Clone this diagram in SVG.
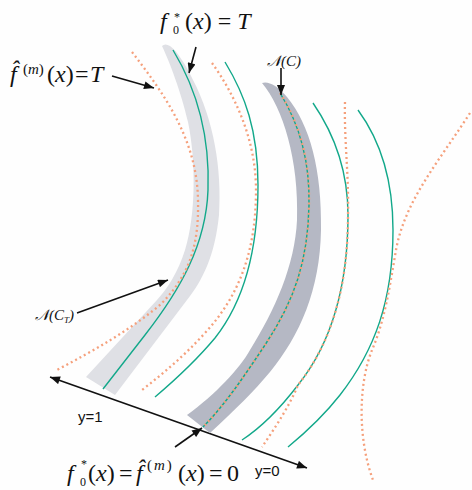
<svg xmlns="http://www.w3.org/2000/svg" width="472" height="490" viewBox="0 0 472 490">
<defs>
<style>
.m{font-family:"Liberation Serif","DejaVu Serif",serif;font-size:24px;fill:#111}
.i{font-style:italic}
.cal{font-family:"Liberation Serif","DejaVu Serif",serif;font-size:15px;font-style:italic;fill:#111}
.ax{font-family:"Liberation Sans",Arial,sans-serif;font-size:15px;fill:#111}
.teal{fill:none;stroke:#12a88a;stroke-width:1.4}
.dot{fill:none;stroke:#f5a07c;stroke-width:2.3;stroke-dasharray:2 3}
.arr{fill:none;stroke:#111;stroke-width:1.6;marker-end:url(#ah)}
</style>
<marker id="ah" viewBox="0 0 10 8" refX="10" refY="4" markerWidth="11" markerHeight="8" markerUnits="userSpaceOnUse" orient="auto-start-reverse"><path d="M0,0 L10,4 L0,8 z" fill="#111"/></marker>
</defs>
<rect width="472" height="490" fill="#fefefe"/>
<g id="axis">
<line x1="50" y1="377" x2="307" y2="468" stroke="#111" stroke-width="1.6" marker-start="url(#ah)" marker-end="url(#ah)"/>
</g>
<g id="band-light">
<path d="M162,46 C170,63 181,92 188,122 C196,160 196,215 185,250 C178,272 168,288 157,300 L86,377 L115,395 L187,300 C203,280 215,255 219,215 C222,170 214,120 193,80 C185,63 176,50 170,46 Q165,43 162,46 Z" fill="#dfe0e5"/>
</g>
<g id="band-dark">
<path d="M262,83 C283,108 299,160 297,220 C295,265 275,310 250,350 C240,368 215,395 187,415 L210,433 C235,410 255,390 270,372 C300,335 320,290 321,230 C322,170 310,125 287,97 Q272,80 262,83 Z" fill="#b5b8c4"/>
</g>
<g id="curves">
<path class="teal" d="M173,50 C196,88 210,135 208,190 C206,245 180,290 145,335 L103,389"/>
<path class="dot" d="M132,52 C165,95 197,140 198,200 C199,245 190,275 160,305 C130,330 95,350 55,371"/>
<path class="teal" d="M225,62 C245,95 258,130 258,185 C258,250 245,300 215,338 C195,362 175,380 155,397"/>
<path class="dot" d="M212,63 C235,95 256,140 256,190 C256,250 240,295 205,333 C185,355 165,372 142,390"/>
<path class="teal" d="M280,93 C300,125 310,160 309,205 C308,260 295,300 265,345 C245,375 225,405 203,427"/>
<path class="dot" d="M280,93 C300,125 310,160 309,205 C308,260 295,300 265,345 C245,375 225,405 203,427"/>
<path class="teal" d="M313,103 C335,135 348,170 348,215 C348,290 330,345 298,385 C285,402 265,425 242,440"/>
<path class="dot" d="M345,102 C344,140 349,175 348,215 C348,290 330,345 298,385 C290,405 275,428 262,447"/>
<path class="teal" d="M358,110 C380,140 393,180 393,230 C393,300 375,350 340,395 C322,418 305,433 288,447"/>
<path class="dot" d="M470,113 C440,160 405,200 396,250 C390,285 385,320 372,350 C358,385 358,440 373,480"/>
</g>
<g id="connectors">
<line class="arr" x1="196" y1="47" x2="189" y2="73"/>
<line class="arr" x1="112" y1="76" x2="154" y2="88"/>
<line class="arr" x1="281" y1="68" x2="281" y2="95"/>
<line class="arr" x1="77" y1="313" x2="168" y2="280"/>
<line class="arr" x1="175" y1="447" x2="202" y2="428"/>
</g>
<g id="label-f0-T">
<text class="m" x="160" y="29"><tspan class="i">f</tspan><tspan font-size="12" x="173" y="34">0</tspan><tspan font-size="12" x="174" y="21">*</tspan><tspan x="185" y="29">(</tspan><tspan class="i">x</tspan>) = <tspan class="i">T</tspan></text>
</g>
<g id="label-fhat-T">
<text class="m" x="10" y="82"><tspan class="i">f̂</tspan><tspan x="23" y="74" font-size="15">(<tspan class="i">m</tspan>)</tspan><tspan x="47" y="82">(</tspan><tspan class="i">x</tspan>)<tspan x="75">=</tspan><tspan x="90" class="i">T</tspan></text>
</g>
<g id="label-NC">
<text class="cal" x="267" y="66">𝒩(C)</text>
</g>
<g id="label-NCT">
<text class="cal" x="35" y="320">𝒩(C<tspan font-size="9" dy="3">T</tspan><tspan dy="-3">)</tspan></text>
</g>
<g id="label-y1"><text class="ax" x="78" y="422">y=1</text></g>
<g id="label-y0"><text class="ax" x="255" y="476">y=0</text></g>
<g id="label-bottom">
<text class="m" x="67" y="481"><tspan class="i">f</tspan><tspan font-size="12" x="80" y="486">0</tspan><tspan font-size="12" x="81" y="468">*</tspan><tspan x="88" y="481">(</tspan><tspan class="i">x</tspan>)<tspan x="119">=</tspan><tspan x="136" class="i">f̂</tspan><tspan x="147" y="470" font-size="15" letter-spacing="2">(<tspan class="i">m</tspan>)</tspan><tspan x="178" y="481">(</tspan><tspan class="i">x</tspan>)<tspan x="209">=</tspan><tspan x="227">0</tspan></text>
</g>
</svg>
